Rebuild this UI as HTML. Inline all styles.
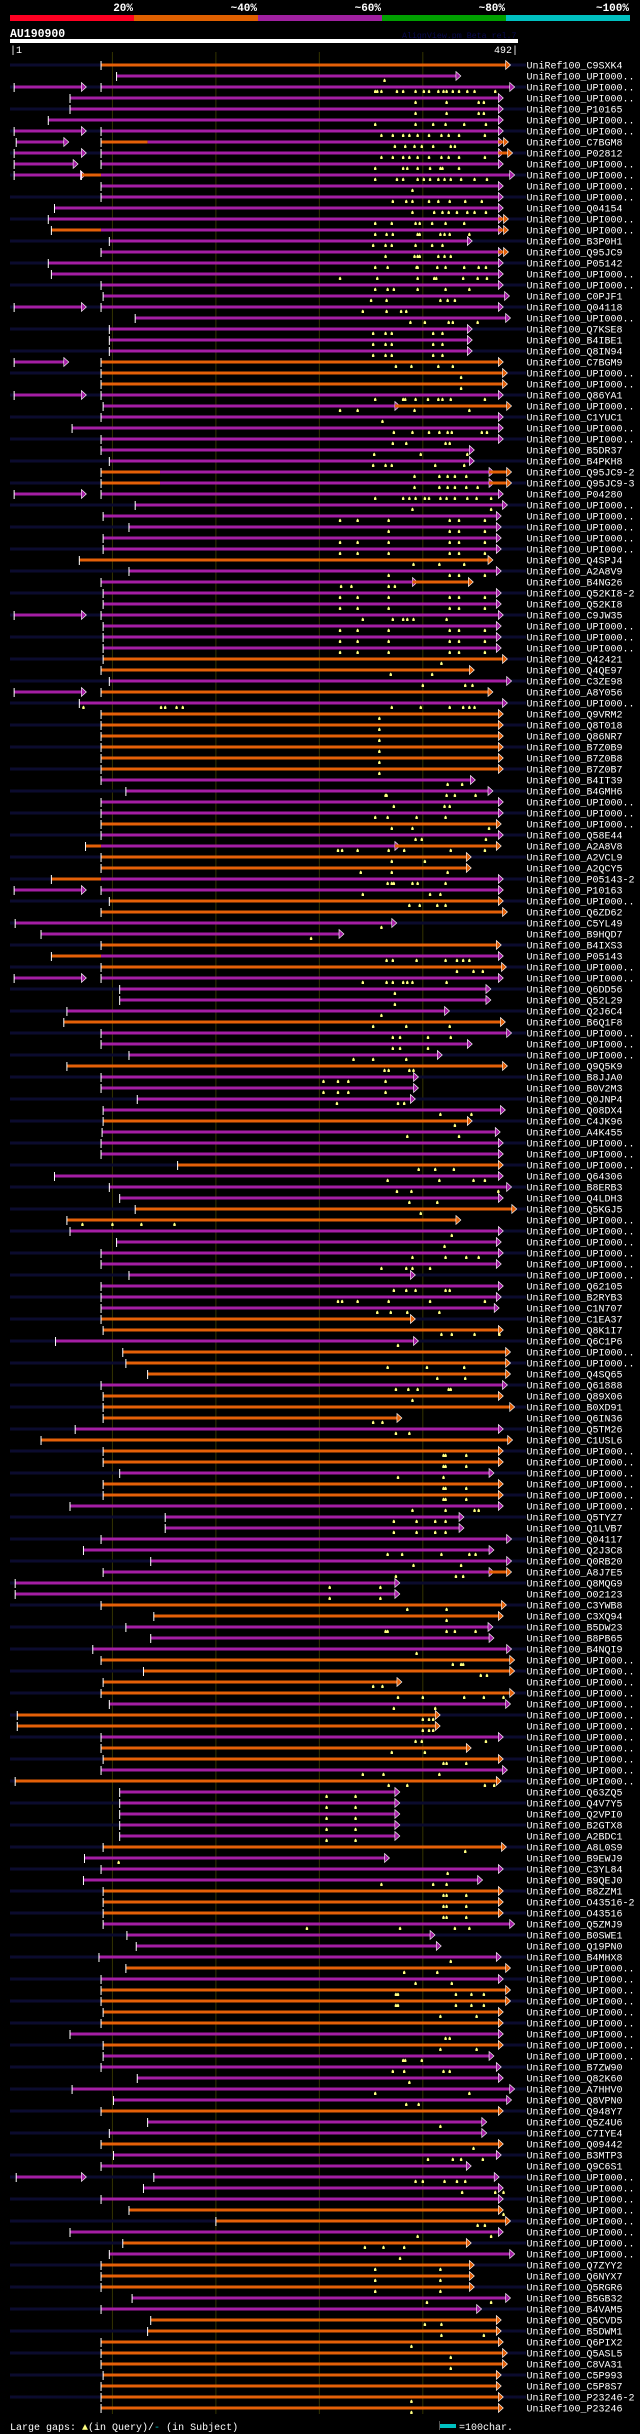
<!DOCTYPE html>
<html><head><meta charset="utf-8"><style>
html,body{margin:0;padding:0;background:#000;}
svg{display:block;}
text{font-family:"Liberation Mono",monospace;}
</style></head><body>
<svg id="chart" width="640" height="2434" viewBox="0 0 640 2434" xmlns="http://www.w3.org/2000/svg">
<rect x="0" y="0" width="640" height="2434" fill="#000"/>
<g>
<rect x="10" y="15" width="124" height="6" fill="#ff0022"/>
<rect x="134" y="15" width="124" height="6" fill="#e06000"/>
<rect x="258" y="15" width="124" height="6" fill="#a020a0"/>
<rect x="382" y="15" width="124" height="6" fill="#00a000"/>
<rect x="506" y="15" width="124" height="6" fill="#00c0c0"/>
<g font-size="11" font-weight="bold" fill="#fff" text-anchor="end">
<text x="133" y="11">20%</text>
<text x="257" y="11">~40%</text>
<text x="381" y="11">~60%</text>
<text x="505" y="11">~80%</text>
<text x="629" y="11">~100%</text>
</g></g>
<text x="10" y="37" font-size="11.5" font-weight="bold" fill="#fff">AU190900</text>
<text x="402" y="38" font-size="8.3" fill="#0a0a50">AlignView.pm Beta rel.7</text>
<rect x="10" y="39" width="508" height="4" fill="#fff"/>
<text x="10" y="53" font-size="10" fill="#fff">|1</text>
<text x="518" y="53" font-size="10" fill="#fff" text-anchor="end">492|</text>
<g id="grid"></g>
<g id="rows"></g>
<g>
<text x="10" y="2430" font-size="10" fill="#fff">Large gaps: <tspan fill="#ffff80">▲</tspan>(in Query)/<tspan fill="#00c0c0">-</tspan> (in Subject)</text>
<rect x="439" y="2424" width="17" height="4" fill="#00c0c0"/>
<rect x="439" y="2421" width="1" height="9" fill="#555"/>
<text x="459" y="2430" font-size="10" fill="#fff">=100char.</text>
</g>
</svg>
<script>
const queryLength = 492;
const gridTicks = [100, 200, 300, 400];
const labels = ["C9SXK4","UPI000..","UPI000..","UPI000..","P10165","UPI000..","UPI000..","C7BGM8","P02812","UPI000..","UPI000..","UPI000..","UPI000..","Q04154","UPI000..","UPI000..","B3P0H1","Q95JC9","P05142","UPI000..","UPI000..","C0PJF1","Q04118","UPI000..","Q7KSE8","B4IBE1","Q8IN94",
"C7BGM9","UPI000..","UPI000..","Q86YA1","UPI000..","C1YUC1","UPI000..","UPI000..","B5DR37","B4PKH8","Q95JC9-2","Q95JC9-3","P04280","UPI000..","UPI000..","UPI000..","UPI000..","UPI000..","Q4SPJ4","A2A8V9","B4NG26","Q52KI8-2","Q52KI8","C9JW35","UPI000..","UPI000..","UPI000..",
"Q42421","Q4QE97","C3ZE98","A8Y056","UPI000..","Q9VRM2","Q8T018","Q86NR7","B7Z0B9","B7Z0B8","B7Z0B7","B4IT39","B4GMH6","UPI000..","UPI000..","UPI000..","Q58E44","A2A8V8","A2VCL9","A2QCY5","P05143-2","P10163","UPI000..","Q6ZD62","C5YL49","B9HQD7","B4IXS3",
"P05143","UPI000..","UPI000..","Q6DD56","Q52L29","Q2J6C4","B6Q1F8","UPI000..","UPI000..","UPI000..","Q9Q5K9","B8JJA0","B0V2M3","Q0JNP4","Q08DX4","C4JK96","A4K455","UPI000..","UPI000..","UPI000..","Q64306","B8ERB3","Q4LDH3","Q5KGJ5","UPI000..","UPI000..","UPI000..",
"UPI000..","UPI000..","UPI000..","Q62105","B2RYB3","C1N707","C1EA37","Q8K1I7","Q6C1P6","UPI000..","UPI000..","Q4SQ65","Q61888","Q89X06","B0XD91","Q6IN36","Q5TM26","C1USL6","UPI000..","UPI000..","UPI000..","UPI000..","UPI000..","UPI000..","Q5TYZ7","Q1LVB7","Q04117",
"Q2J3C8","Q0RB20","A8J7E5","Q8MQG9","O02123","C3YWB8","C3XQ94","B5DW23","B8PB65","B4NQI9","UPI000..","UPI000..","UPI000..","UPI000..","UPI000..","UPI000..","UPI000..","UPI000..","UPI000..","UPI000..","UPI000..","UPI000..","Q63ZQ5","Q4V7Y5","Q2VPI0","B2GTX8","A2BDC1",
"A8L0S9","B9EWJ9","C3YL84","B9QEJ0","B8ZZM1","O43516-2","O43516","Q5ZMJ9","B0SWE1","Q19PN0","B4MHX8","UPI000..","UPI000..","UPI000..","UPI000..","UPI000..","UPI000..","UPI000..","UPI000..","UPI000..","B7ZW90","Q82K60","A7HHV0","Q8VPN0","Q948Y7","Q5Z4U6","C7IYE4",
"Q09442","B3MTP3","Q9C6S1","UPI000..","UPI000..","UPI000..","UPI000..","UPI000..","UPI000..","UPI000..","UPI000..","Q7ZYY2","Q6NYX7","Q5RGR6","B5GB32","B4VAM5","Q5CVD5","B5DWM1","Q6PIX2","Q5ASL5","C8VA31","C5P993","C5P8S7","P23246-2","P23246"];
// segments per row: [start, end, color (o=orange ~40%, p=purple ~60%), arrow(1/0)]
const segments = [
[[89,480,'o',1]],[[104,432,'p',1]],[[5,70,'p',1],[89,484,'p',1]],[[59,473,'p',1]],[[59,473,'p',1]],[[38,473,'p',1]],[[5,70,'p',1],[89,473,'p',1]],
[[7,53,'p',1],[89,134,'o',0],[134,473,'p',1],[473,478,'o',1]],[[5,70,'p',1],[89,473,'p',1],[473,482,'o',1]],[[5,62,'p',1],[89,473,'p',1]],
[[5,69,'p',1],[70,89,'o',0],[89,484,'p',1]],[[89,473,'p',1]],[[89,473,'p',1]],[[44,473,'p',1]],[[38,473,'p',1],[473,478,'o',1]],
[[41,89,'o',0],[89,473,'p',1],[473,478,'o',1]],[[97,443,'p',1]],[[89,473,'p',1],[473,478,'o',1]],[[38,473,'p',1]],[[41,473,'p',1]],[[89,473,'p',1]],
[[91,479,'p',1]],[[5,70,'p',1],[89,473,'p',1]],[[122,480,'p',1]],[[97,443,'p',1]],[[97,443,'p',1]],[[97,443,'p',1]],
[[5,53,'p',1],[89,473,'o',1]],[[89,477,'o',1]],[[89,477,'o',1]],[[5,70,'p',1],[89,473,'p',1]],[[91,373,'p',1],[373,481,'o',1]],[[89,473,'p',1]],[[61,473,'p',1]],
[[89,473,'p',1]],[[89,445,'p',1]],[[97,445,'p',1]],[[89,146,'o',0],[146,464,'p',1],[464,481,'o',1]],[[89,146,'o',0],[146,464,'p',1],[464,481,'o',1]],
[[5,70,'p',1],[89,473,'p',1]],[[122,477,'p',1]],[[91,471,'p',1]],[[116,471,'p',1]],[[91,471,'p',1]],[[91,471,'p',1]],[[68,463,'o',1]],[[116,471,'p',1]],
[[89,390,'p',1],[390,444,'o',1]],[[91,471,'p',1]],[[91,471,'p',1]],[[5,70,'p',1],[89,473,'p',1]],[[91,471,'p',1]],[[91,471,'p',1]],[[91,471,'p',1]],
[[91,477,'o',1]],[[89,445,'o',1]],[[97,481,'p',1]],[[5,70,'p',1],[89,463,'o',1]],[[68,477,'p',1]],[[89,473,'o',1]],[[89,473,'o',1]],[[89,473,'o',1]],
[[89,473,'o',1]],[[89,473,'o',1]],[[89,473,'o',1]],[[89,446,'p',1]],[[113,463,'p',1]],[[89,473,'p',1]],[[89,473,'p',1]],[[89,471,'o',1]],[[89,473,'p',1]],
[[74,89,'o',0],[89,373,'p',1],[373,471,'o',1]],[[89,442,'o',1]],[[89,442,'o',1]],[[41,89,'o',0],[89,473,'p',1]],[[5,70,'p',1],[89,473,'p',1]],
[[97,473,'o',1]],[[89,477,'o',1]],[[6,370,'p',1]],[[31,319,'p',1]],[[89,471,'o',1]],
[[41,89,'o',0],[89,473,'p',1]],[[89,476,'o',1]],[[5,70,'p',1],[89,473,'p',1]],[[107,461,'p',1]],[[107,461,'p',1]],[[56,421,'p',1]],[[53,475,'o',1]],
[[89,481,'p',1]],[[89,443,'p',1]],[[116,414,'p',1]],[[56,477,'o',1]],[[89,391,'p',1]],[[89,391,'p',1]],[[124,388,'p',1]],[[91,475,'p',1]],[[91,443,'o',1]],
[[90,470,'p',1]],[[89,473,'p',1]],[[89,473,'p',1]],[[163,473,'o',1]],[[44,473,'p',1]],[[97,481,'p',1]],[[107,473,'p',1]],[[122,486,'o',1]],[[56,432,'o',1]],
[[59,473,'p',1]],[[104,471,'p',1]],
[[89,473,'p',1]],[[89,471,'p',1]],[[116,388,'p',1]],[[89,473,'p',1]],[[89,471,'p',1]],[[89,469,'p',1]],[[89,388,'o',1]],[[91,473,'o',1]],[[45,391,'p',1]],
[[110,480,'o',1]],[[113,480,'o',1]],[[134,480,'o',1]],[[89,477,'p',1]],[[91,473,'o',1]],[[91,484,'o',1]],[[91,375,'o',1]],[[64,473,'p',1]],[[31,482,'o',1]],
[[91,473,'o',1]],[[91,473,'o',1]],[[107,464,'p',1]],[[91,473,'o',1]],[[91,473,'o',1]],[[59,473,'p',1]],[[151,435,'p',1]],[[151,435,'p',1]],[[89,481,'p',1]],
[[72,464,'p',1]],[[137,481,'p',1]],[[91,464,'p',1],[464,481,'o',1]],[[6,373,'p',1]],[[6,373,'p',1]],[[89,476,'o',1]],[[140,473,'o',1]],[[113,463,'p',1]],
[[137,464,'p',1]],[[81,481,'p',1]],[[89,484,'o',1]],[[130,484,'o',1]],[[91,375,'o',1]],[[89,484,'o',1]],[[97,480,'p',1]],[[8,412,'o',1]],[[8,412,'o',1]],
[[89,473,'p',1]],[[89,442,'o',1]],[[91,473,'o',1]],[[89,477,'p',1]],[[6,471,'o',1]],[[107,373,'p',1]],[[107,373,'p',1]],[[107,373,'p',1]],[[107,373,'p',1]],[[107,373,'p',1]],
[[91,476,'o',1]],[[73,363,'p',1]],[[89,473,'p',1]],[[72,453,'p',1]],[[91,473,'o',1]],[[91,473,'o',1]],[[91,473,'o',1]],[[91,484,'p',1]],[[114,407,'p',1]],
[[123,413,'p',1]],[[87,471,'p',1]],[[113,480,'o',1]],[[89,473,'p',1]],[[89,480,'o',1]],[[89,480,'o',1]],[[91,473,'o',1]],[[89,473,'o',1]],[[59,473,'p',1]],
[[91,473,'o',1]],[[91,464,'p',1]],[[89,471,'p',1]],[[124,473,'p',1]],[[61,484,'p',1]],[[101,481,'p',1]],[[89,473,'o',1]],[[134,457,'p',1]],[[97,457,'p',1]],
[[89,473,'o',1]],[[101,471,'p',1]],[[89,442,'p',1]],[[7,70,'p',1],[140,469,'p',1]],[[130,473,'p',1]],[[89,473,'p',1]],[[116,473,'o',1]],[[200,480,'o',1]],
[[59,473,'p',1]],[[110,442,'o',1]],[[97,484,'p',1]],[[89,445,'o',1]],[[89,445,'o',1]],[[89,445,'o',1]],[[119,480,'p',1]],[[89,452,'p',1]],[[137,471,'o',1]],
[[134,471,'o',1]],[[89,473,'o',1]],[[89,477,'o',1]],[[89,477,'o',1]],[[91,471,'o',1]],[[89,471,'o',1]],[[89,473,'o',1]],[[89,473,'o',1]]
];
// large query gaps (residue positions) per row index
const gaps = {
1:[363],2:[354,356,360,375,381,393,401,406,415,420,423,429,435,443,450,470],3:[393,423,454,459],4:[393,423,454,459],
5:[354,393,410,422,440,461],6:[360,371,381,387,395,406,418,425,435,460],7:[373,383,392,399,410,427,431],8:[360,371,381,387,395,406,418,425,435,460],
9:[354,381,385,395,407,417,419,435],10:[354,375,381,395,401,407,415,421,427,437,450,462],11:[390],12:[371,384,390,406,415,426,441,457],
13:[390,411,419,425,433,443,450,461],14:[354,370,393,397,409,422,440],15:[354,365,371,395,397,417,421,426,445],16:[352,364,370,393,409,419],
17:[364,392,395,397,415,421,427],18:[354,366,394,395,414,422,440,454,461],19:[320,356,395,411,413,439,453,462],20:[354,366,372,395,422,445],
21:[350,365,417,424,431],22:[342,365,379,384],23:[388,402,425,429,453],24:[352,364,370,410,419],25:[352,364,370,410,419],26:[352,364,370,410,419],
27:[374,389,415,429],28:[437],29:[437],30:[354,381,383,393,405,415,419,427,460],31:[320,337,392,445],32:[361],33:[372,390,406,416,424,428,457,462],
34:[371,384,422,426],35:[353,398,443],36:[352,364,370,412,440],37:[392,416,424,431,442],38:[392,416,424,431,442,453],
39:[354,381,387,393,402,406,417,423,431,443,452,466],40:[390,466],41:[320,337,367,426,435,460],42:[367,426,435,460],43:[320,337,367,426,435,460],
44:[320,337,367,426,435,460],45:[391,416,440],46:[367,426,435,460],47:[321,331,367,373],48:[320,337,367,426,435,460],49:[320,337,367,426,435,460],
50:[342,371,381,385,391,423],51:[320,337,367,426,435,460],52:[320,337,367,426,435,460],53:[320,337,367,426,435,460],
54:[418],55:[369,409],56:[400,441,448],58:[72,147,151,162,168,370,398,426,439,445,450],59:[358],60:[358],61:[358],62:[358],63:[358],64:[358],
65:[424,438],66:[364,365,423,431,451],67:[372,421,426],68:[354,366,394,422],69:[370,390,464],70:[393,399,461],71:[318,322,337,367,382,427,460],
72:[370,402],73:[340,370,424],74:[366,370,372,390,395,422],75:[342,407,417],76:[387,397,414,422],78:[360],79:[292],
81:[365,371,394,422,433,439,445],82:[433,449,458],83:[342,365,371,381,385,390,423],84:[373],85:[373],86:[360],87:[352,384,426],
88:[371,378,405,427],89:[371,378,405],90:[333,352,384],91:[363,367,387,391],92:[304,318,328,364],93:[304,318,328,364],94:[317,376,382],
95:[417,447],96:[431],97:[385,435],100:[396,412,430],101:[366,416,449,460],102:[375,389,473],103:[387,414],104:[398],105:[71,100,128,160],
106:[428],107:[421],108:[390,422,442,454],109:[360,384,390,407],111:[372,384,393,422,426],112:[318,322,337,367,407,460],113:[356,369,385,416],
115:[418,428,450,474],116:[376],118:[366,404,440],119:[414,441],120:[374,386,395,425,427],121:[390],123:[352,361],124:[374,387],
126:[420,422,442],127:[420,422,442],128:[376,420],129:[420,422,442],130:[420,422,442],131:[390,422,450,454],132:[372,394,412,422],133:[372,394,412,422],
135:[366,380,418,445,451],136:[391,437],137:[374,432,439],138:[310,359],139:[310,359],140:[385,423],141:[423],142:[364,366,423,431,451],
144:[394],145:[429,437,439],146:[456,462],147:[352,361],148:[376,400,440,459,478],149:[372,412],150:[400,406,410],151:[400,406,410],
152:[393,399,461],153:[370,402],154:[420,423,442],155:[342,362,416],156:[367,385,460,469],157:[307,335],158:[307,335],159:[307,335],160:[307,335],161:[307,335],
162:[441],163:[106],164:[424],165:[360,410,423],166:[420,423,442],167:[420,423,442],168:[420,423,442],169:[288,378,431,445],172:[427],173:[382,414],
174:[393,428],175:[374,376,432,447,459],176:[374,376,432,447,459],177:[417,452],179:[422,426],180:[417,452],181:[381,383,399],182:[371,382,420,426],
183:[387],184:[354,445],185:[384,396],187:[417],189:[449],190:[405,429,437,458],192:[393,400,421,433,441],193:[438,470,478],195:[478],
196:[453,460],197:[395,466],198:[344,362,382],199:[378],200:[354,417],201:[354,417],202:[354,417],203:[404,466],205:[402,418],206:[418,459],
207:[389],208:[427],209:[427],212:[389],213:[389]
};
const colors = {o:'#e46008', p:'#a41ea4'};
const NS = 'http://www.w3.org/2000/svg';
function xScale(pos){ return 10 + (pos - 1) * 508 / (queryLength - 1); }
function yRow(i){ return 65 + i * 11; }
function mk(tag, attrs, parent){ const e = document.createElementNS(NS, tag); for (const k in attrs) e.setAttribute(k, attrs[k]); parent.appendChild(e); return e; }

const grid = document.getElementById('grid');
gridTicks.forEach(t => {
  const l = mk('line', {x1: xScale(t), x2: xScale(t), y1: 52, y2: 2414, stroke: '#333300', 'stroke-width': 1}, grid);
  
  
});

const rowsG = document.getElementById('rows');
labels.forEach((lab, i) => {
  const y = yRow(i);
  const g = mk('g', {}, rowsG);
  
  
  if (i % 2 === 0) {
    const bg = mk('rect', {x: 10, y: y - 1.5, width: 516, height: 3, fill: '#0b0b2e'}, g);
    
    
  }
  const segs = segments[i] || [];
  segs.forEach((s, k) => {
    const x1 = xScale(s[0]), x2 = xScale(s[1]);
    const bar = mk('rect', {x: x1, y: y - 1.5, width: Math.max(1, x2 - x1), height: 3, fill: colors[s[2]]}, g);
    
    
    const prev = segs[k - 1];
    if (!prev || prev[1] !== s[0]) {
      const tk = mk('rect', {x: x1 - 0.5, y: y - 4, width: 1, height: 9, fill: '#fff'}, g);
      
      
    }
    if (s[3]) {
      const ar = mk('polygon', {points: `${x2},${y - 4.5} ${x2 + 5},${y} ${x2},${y + 4.5}`, fill: colors[s[2]], stroke: '#fff', 'stroke-width': 0.6}, g);
      
      
    }
  });
  (gaps[i] || []).forEach(p => {
    const gx = xScale(p);
    const gm = mk('polygon', {points: `${gx - 1.2},${y + 6} ${gx - 1.2},${y + 4} ${gx},${y + 2.5} ${gx + 1.2},${y + 4} ${gx + 1.2},${y + 6}`, fill: '#ffff80'}, g);
    
    
  });
  const t = mk('text', {x: 526.5, y: y + 3.5, 'font-size': 10, fill: '#fff'}, g);
  t.textContent = 'UniRef100_' + lab;
  
  
});
</script>
</body></html>
